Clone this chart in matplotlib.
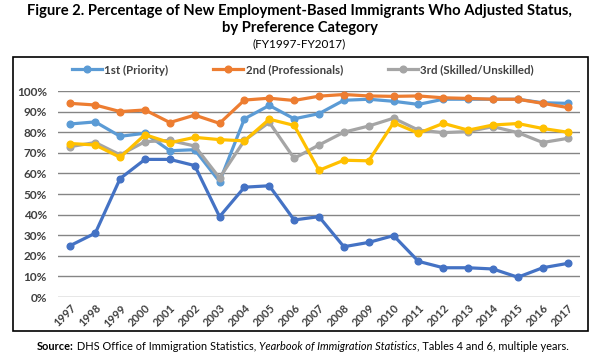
"""Figure 2: share of new employment-based immigrants who adjusted status, FY1997-FY2017."""

import matplotlib

matplotlib.use("Agg")
import matplotlib.pyplot as plt  # noqa: E402
from matplotlib.patches import Rectangle  # noqa: E402

plt.rcParams["font.family"] = ["Lato", "DejaVu Sans"]

# ------------------------------------------------------------------
# Data (percent)
# ------------------------------------------------------------------
years = [str(y) for y in range(1997, 2018)]

first_priority = [84, 85, 78, 79.5, 71, 71.5, 56, 86.5, 93, 86.5, 89,
                  95.5, 96, 95, 93.5, 96, 96, 96, 96, 94.3, 94]
second_prof = [94, 93.2, 90, 90.8, 84.7, 88.3, 84.3, 95.6, 96.5, 95.4, 97.5,
               98.3, 97.6, 97.4, 97.6, 96.7, 96.4, 96, 96, 94, 92]
third_skilled = [73, 75, 69, 75.4, 76, 73.3, 57.8, 76, 84.8, 67.3, 73.8,
                 80, 83, 86.8, 81, 79.8, 80.3, 82.7, 79.8, 75, 77]
fourth_special = [74.5, 73.8, 67.8, 78.8, 74.9, 77.5, 76.4, 75.8, 86.3, 83.3, 61.5,
                  66.4, 66.1, 84.6, 79.5, 84.3, 81, 83.5, 84.2, 81.8, 80]
fifth_investor = [25, 31, 57.5, 66.8, 66.8, 63.8, 39, 53.3, 54, 37.4, 39,
                  24.4, 26.5, 29.8, 17.3, 14.2, 14.2, 13.6, 9.6, 14.2, 16.3]

series = [
    ("1st (Priority)", first_priority, "#5B9BD5", True),
    ("2nd (Professionals)", second_prof, "#ED7D31", True),
    ("3rd (Skilled/Unskilled)", third_skilled, "#A5A5A5", True),
    ("4th (Special Immigrants)", fourth_special, "#FFC000", False),
    ("5th (Investors)", fifth_investor, "#4472C4", False),
]

yticks = list(range(0, 101, 10))

# ------------------------------------------------------------------
# Figure
# ------------------------------------------------------------------
W, H = 599, 357
fig = plt.figure(figsize=(W / 100, H / 100), dpi=100)
ax = fig.add_axes([58 / W, 1 - 297 / H, (580 - 58) / W, (297 - 91) / H])

x = list(range(len(years)))
handles = []
for label, vals, color, in_legend in series:
    (ln,) = ax.plot(x, vals, color=color, lw=2.3, marker="o", ms=4.8,
                    mfc=color, mec=color, label=label, solid_joinstyle="round")
    if in_legend:
        handles.append(ln)

ax.set_xlim(-0.5, len(years) - 0.5)
ax.set_ylim(0, 100)
ax.set_yticks(yticks)
ax.set_yticklabels([f"{t}%" for t in yticks])
ax.set_xticks(x)
ax.set_xticklabels(years, rotation=45, ha="right", rotation_mode="anchor")
ax.grid(axis="y", color="#858585", lw=1.0)
ax.set_axisbelow(True)
for side in ("top", "right", "left", "bottom"):
    ax.spines[side].set_visible(False)
ax.tick_params(axis="both", length=0, colors="#404040")
ax.tick_params(axis="y", pad=8, labelsize=8.5)
ax.tick_params(axis="x", pad=4, labelsize=8)
for lbl in ax.get_xticklabels() + ax.get_yticklabels():
    lbl.set_fontweight("bold")

fig.legend(handles=handles, loc="center", ncol=3,
           bbox_to_anchor=(303 / W, 1 - 70 / H), frameon=False,
           prop={"weight": "bold", "size": 8.3}, labelcolor="#404040",
           handlelength=2.6, handletextpad=0.2, columnspacing=3.9)

# chart border
fig.patches.append(Rectangle((13 / W, 1 - 331 / H), (588 - 13) / W, (331 - 57) / H,
                             transform=fig.transFigure, fill=False,
                             edgecolor="black", lw=1.2))

# titles
fig.text(0.5, 1 - 11 / H, "Figure 2. Percentage of New Employment-Based Immigrants"
         " Who Adjusted Status,", ha="center", va="center", fontsize=10.6,
         fontweight="bold")
fig.text(0.5, 1 - 28 / H, "by Preference Category", ha="center", va="center",
         fontsize=10.6, fontweight="bold")
fig.text(0.5, 1 - 44 / H, "(FY1997-FY2017)", ha="center", va="center", fontsize=8.5)

# source line, assembled from pieces with different styles
renderer = fig.canvas.get_renderer()
pieces = [("Source:", "bold", "normal"),
          (" DHS Office of Immigration Statistics, ", "normal", "normal"),
          ("Yearbook of Immigration Statistics", "normal", "italic"),
          (", Tables 4 and 6, multiple years.", "normal", "normal")]
xpos = 37
for text, weight, style in pieces:
    t = fig.text(xpos / W, 1 - 346 / H, text, ha="left", va="center",
                 fontsize=7.9, fontweight=weight, fontstyle=style)
    xpos += t.get_window_extent(renderer).width

fig.savefig("out.png", dpi=100)
